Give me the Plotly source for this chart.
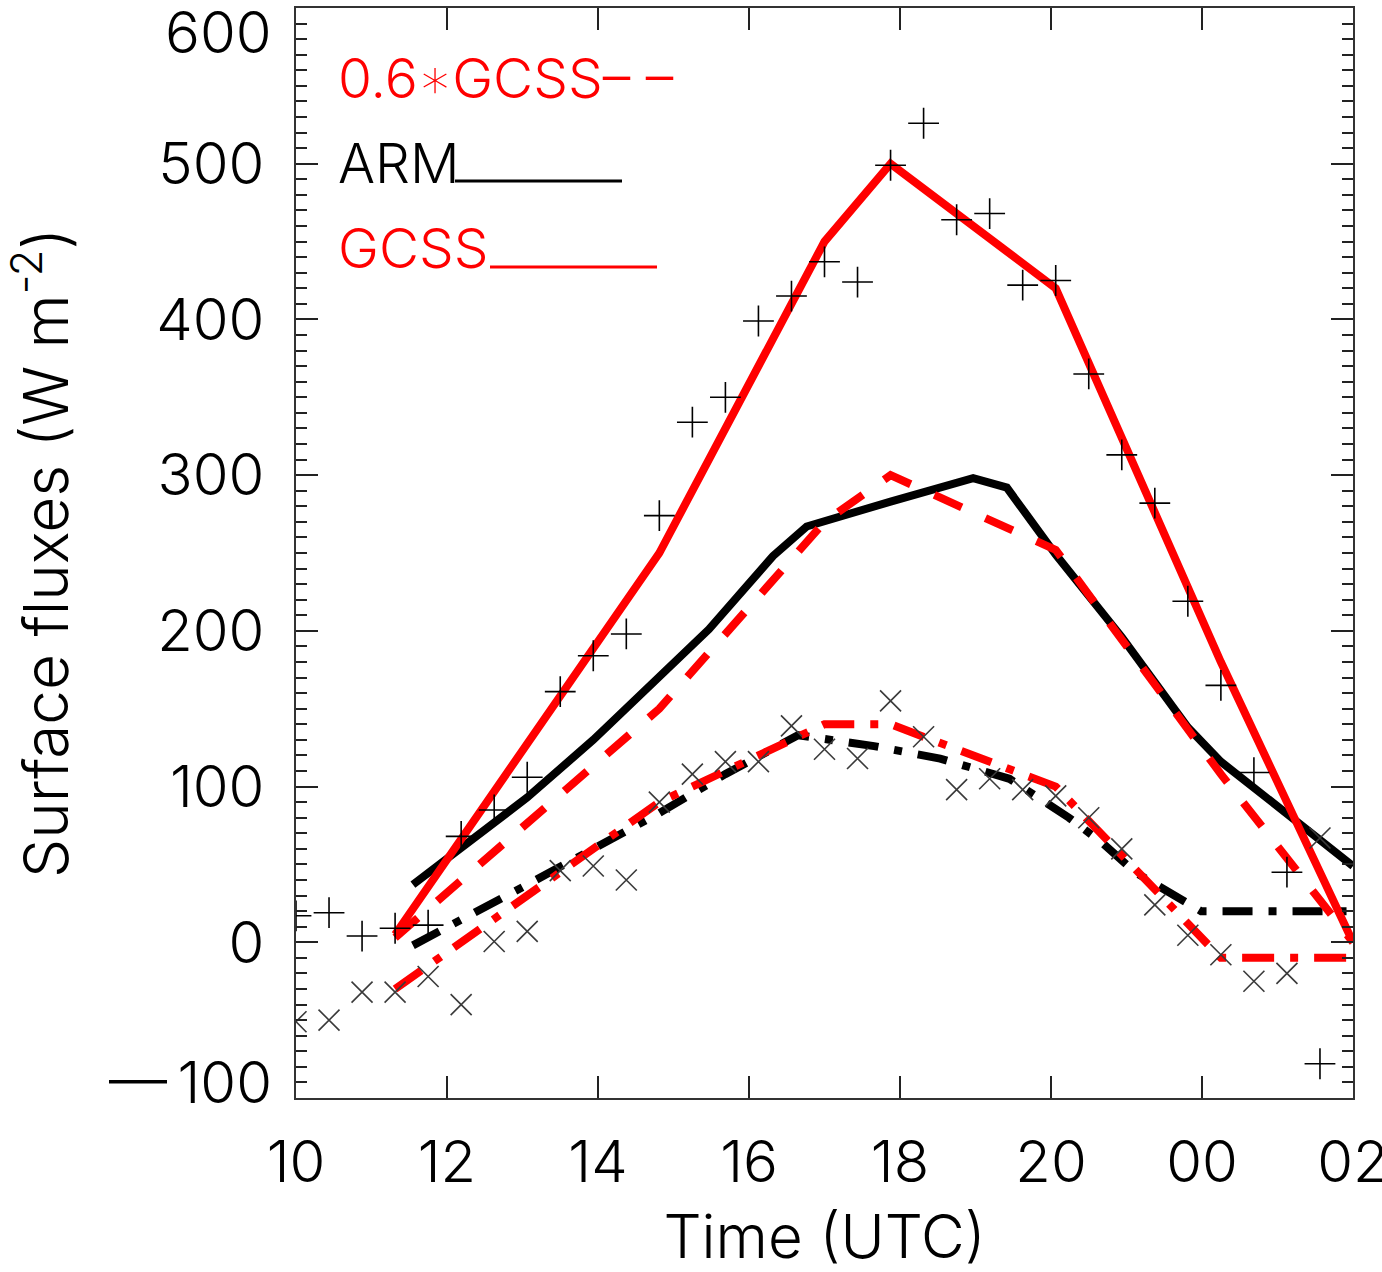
import numpy as np
import plotly.graph_objects as go

# ---------------- data ----------------
gcss_t = [11.5, 15.5, 18.0, 19.0, 21.5, 24.0, 26.0]
gcss_le = [5, 250, 450, 500, 420, 180, 0]
gcss_le_06 = [3, 150, 270, 300, 252, 108, 0]
gcss_h = [-30, 90, 140, 140, 100, -10, -10]

arm_le_t = [11.77, 12.5, 13.5, 14.5, 15.5, 16.25, 17.22, 17.73, 19.0, 20.25, 20.76, 21.5, 22.5, 23.5, 24.0, 25.0, 26.0]
arm_le = [37, 60, 93, 130, 170, 201, 248, 267, 283, 298, 292, 249, 196, 138, 116, 82, 49]
arm_h_t = [11.77, 12.5, 13.5, 14.5, 15.5, 16.5, 17.6, 18.75, 19.75, 20.8, 21.3, 21.7, 22.2, 22.7, 23.7, 26.0]
arm_h = [-2, 15, 37, 60, 83, 108, 133, 126, 118, 105, 91, 80, 64, 45, 20, 20]

obs_t = [10.0, 10.5, 11.0, 11.5, 12.0, 12.5, 13.0, 13.5, 14.0, 14.5, 15.0, 15.5, 16.0, 16.5,
         17.0, 17.5, 18.0, 18.5, 19.0, 19.5, 20.0, 20.5, 21.0, 21.5, 22.0, 22.5, 23.0, 23.5,
         24.0, 24.5, 25.0, 25.5]
obs_le = [17, 19, 4, 9, 11, 68, 85, 106, 161, 184, 198, 274, 334, 350,
          399, 415, 437, 424, 499, 526, 464, 468, 422, 425, 365, 313, 282, 219,
          165, 109, 45, -78]
obs_h = [-51, -50, -32, -32, -22, -40, 0.5, 7, 46, 49, 40, 90, 108, 116,
         116, 139, 124, 118, 155, 132, 98, 105, 98, 94, 80, 60, 24, 4.5,
         -8, -25, -20, 67]

x_tick_labels = ["10", "12", "14", "16", "18", "20", "00", "02"]
y_tick_vals = [0, 100, 200, 300, 400, 500]
y_tick_labels = ["0", "100", "200", "300", "400", "500"]

FONT = "Inter, DejaVu Sans"
FW = 300
FS = 58
LFS = 55

fig = go.Figure()

LW = 8
fig.add_trace(go.Scatter(x=arm_le_t, y=arm_le, mode="lines",
                         line=dict(color="black", width=LW)))
fig.add_trace(go.Scatter(x=arm_h_t, y=arm_h, mode="lines",
                         line=dict(color="black", width=LW, dash="30px,16px,8px,16px")))
fig.add_trace(go.Scatter(x=gcss_t, y=gcss_h, mode="lines",
                         line=dict(color="#ff0000", width=LW, dash="32px,16px,8px,16px")))
fig.add_trace(go.Scatter(x=gcss_t, y=gcss_le_06, mode="lines",
                         line=dict(color="#ff0000", width=LW, dash="30px,26px")))
fig.add_trace(go.Scatter(x=gcss_t, y=gcss_le, mode="lines",
                         line=dict(color="#ff0000", width=LW)))
fig.add_trace(go.Scatter(x=obs_t, y=obs_le, mode="markers",
                         marker=dict(symbol="cross-thin", size=22,
                                     line=dict(color="black", width=1.6))))
fig.add_trace(go.Scatter(x=obs_t, y=obs_h, mode="markers",
                         marker=dict(symbol="x-thin", size=21,
                                     line=dict(color="#3a3a3a", width=1.6))))

xt = np.linspace(10, 26, len(x_tick_labels))
tfont = dict(family=FONT, size=FS, weight=FW, color="black")

fig.update_layout(
    width=1382, height=1272,
    margin=dict(l=296, r=29, t=8, b=174, pad=0, autoexpand=False),
    paper_bgcolor="white", plot_bgcolor="white",
    showlegend=False,
    font=tfont,
    xaxis=dict(range=[10, 26], tickvals=xt, ticktext=x_tick_labels,
               ticks="inside", ticklen=22, tickwidth=2, tickcolor="#222",
               showline=True, linecolor="#333", linewidth=2, mirror="ticks",
               showgrid=False, zeroline=False, automargin=False,
               tickfont=tfont,
               ticklabelstandoff=12, ticklabeloverflow="allow",
               title=dict(text="Time (UTC)", standoff=26,
                          font=dict(family=FONT, size=60, weight=FW))),
    yaxis=dict(range=[-100, 600], tickvals=y_tick_vals, ticktext=y_tick_labels,
               ticks="inside", ticklen=22, tickwidth=2, tickcolor="#222",
               showline=True, linecolor="#333", linewidth=2, mirror="ticks",
               showgrid=False, zeroline=False, automargin=False,
               tickfont=tfont,
               ticklabelstandoff=18,
               minor=dict(dtick=10, ticks="inside", ticklen=11, tickwidth=2,
                          tickcolor="#222", showgrid=False),
               title=dict(text="Surface fluxes (W m<sup>-2</sup>)", standoff=70,
                          font=dict(family=FONT, size=62, weight=FW))),
)

fig.add_annotation(x=0, xref="paper", y=600, yref="y", text="600",
                   xanchor="right", yanchor="middle", xshift=-22, yshift=-24,
                   showarrow=False, font=tfont)
fig.add_annotation(x=0, xref="paper", y=-100, yref="y", text="\u2014\u2009100",
                   xanchor="right", yanchor="middle", xshift=-22, yshift=16,
                   showarrow=False, font=tfont)

fig.add_annotation(x=(336 - 296) / 1057, xref="paper", y=0.936, yref="paper",
                   text="0.6\u2217GCSS\u2013 \u2013", xanchor="left", yanchor="middle",
                   showarrow=False, font=dict(family=FONT, size=LFS, weight=FW, color="#ff0000"))
fig.add_annotation(x=(336 - 296) / 1057, xref="paper", y=0.858, yref="paper",
                   text="ARM", xanchor="left", yanchor="middle",
                   showarrow=False, font=dict(family=FONT, size=LFS, weight=FW, color="black"))
fig.add_annotation(x=(336 - 296) / 1057, xref="paper", y=0.780, yref="paper",
                   text="GCSS", xanchor="left", yanchor="middle",
                   showarrow=False, font=dict(family=FONT, size=LFS, weight=FW, color="#ff0000"))
fig.add_shape(type="line", xref="paper", yref="paper",
              x0=(455 - 296) / 1057, x1=(622 - 296) / 1057, y0=0.8413, y1=0.8413,
              line=dict(color="black", width=3))
fig.add_shape(type="line", xref="paper", yref="paper",
              x0=(490 - 296) / 1057, x1=(657 - 296) / 1057, y0=0.7624, y1=0.7624,
              line=dict(color="#ff0000", width=3))

fig.write_html("out.html")
